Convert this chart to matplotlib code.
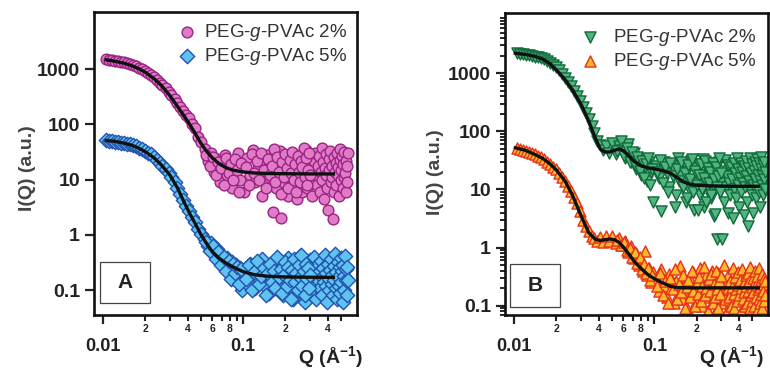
import matplotlib
matplotlib.use("Agg")
import matplotlib.pyplot as plt
from matplotlib.ticker import FixedLocator, FixedFormatter, NullLocator, LogLocator, NullFormatter
from matplotlib.patches import Rectangle

plt.rcParams["font.family"] = ["Liberation Sans", "DejaVu Sans"]
plt.rcParams["font.weight"] = "bold"
plt.rcParams["mathtext.fontset"] = "custom"
plt.rcParams["mathtext.rm"] = "Liberation Sans:weight=normal"
plt.rcParams["mathtext.it"] = "Liberation Sans:style=italic:weight=normal"
plt.rcParams["mathtext.bf"] = "Liberation Sans:weight=bold"

# scattering vector Q (1/A), common grid for all four curves
q = [0.0105, 0.0110, 0.0116, 0.0122, 0.0128, 0.0134, 0.0141, 0.0148, 0.0155, 0.0163,
     0.0171, 0.0180, 0.0189, 0.0198, 0.0208, 0.0218, 0.0229, 0.0241, 0.0253, 0.0265,
     0.0279, 0.0293, 0.0307, 0.0323, 0.0339, 0.0356, 0.0373, 0.0392, 0.0412, 0.0432,
     0.0454, 0.0477,
     0.050, 0.053, 0.056, 0.059, 0.062, 0.065, 0.068, 0.071, 0.074, 0.077,
     0.080, 0.083, 0.086, 0.089, 0.092, 0.095, 0.098,
     0.102, 0.107, 0.112, 0.117, 0.122, 0.127, 0.132, 0.137, 0.142, 0.147,
     0.152, 0.157, 0.162, 0.167, 0.172, 0.177, 0.182, 0.187, 0.192, 0.197,
     0.202, 0.207, 0.212, 0.217, 0.222, 0.227, 0.232, 0.237, 0.242, 0.247,
     0.252, 0.257, 0.262, 0.267, 0.272, 0.277, 0.282, 0.287, 0.292, 0.297,
     0.302, 0.307, 0.312, 0.317, 0.322, 0.327, 0.332, 0.337, 0.342, 0.347,
     0.352, 0.357, 0.362, 0.367, 0.372, 0.377, 0.382, 0.387, 0.392, 0.397,
     0.402, 0.407, 0.412, 0.417, 0.422, 0.427, 0.432, 0.437, 0.442, 0.447,
     0.452, 0.457, 0.462, 0.467, 0.472, 0.477, 0.482, 0.487, 0.492, 0.497,
     0.502, 0.507, 0.512, 0.517, 0.522, 0.527, 0.532, 0.537, 0.542, 0.547,
     0.552, 0.557, 0.562, 0.567, 0.572, 0.577, 0.582, 0.587, 0.592, 0.597,
     0.602, 0.607, 0.612, 0.617]

# in-between Q points in the flat part, where the data get noisy
q_fill = [0.0545, 0.0575, 0.0605, 0.0635, 0.0665, 0.0695, 0.0725, 0.0755, 0.0785, 0.0815,
          0.0845, 0.0875, 0.0905, 0.0935, 0.0965,
          0.1045, 0.1095, 0.1145, 0.1195, 0.1245, 0.1295, 0.1345, 0.1395, 0.1445, 0.1495,
          0.1545, 0.1595, 0.1645, 0.1695, 0.1745, 0.1795, 0.1845, 0.1895, 0.1945, 0.1995,
          0.2045, 0.2095, 0.2145, 0.2195, 0.2245, 0.2295, 0.2345, 0.2395, 0.2445, 0.2495,
          0.2545, 0.2595, 0.2645, 0.2695, 0.2745, 0.2795, 0.2845, 0.2895, 0.2945, 0.2995]

# --- panel A: measured intensities ---
i_a2 = [1500, 1470, 1450, 1420, 1400, 1370, 1340, 1300, 1250, 1190,
        1130, 1060, 990, 930, 860, 790, 720, 640, 570, 510,
        450, 390, 335, 290, 245, 205, 175, 150, 130, 100,
        85, 60,
        48, 36, 22, 30, 14, 24, 9, 20, 28, 12,
        17, 7, 22, 14, 30, 10, 18,
        6, 25, 12, 35, 9, 16, 22, 5, 14, 28,
        11, 19, 2.6, 27, 7, 15, 33, 2.0, 9, 21,
        13, 5, 26, 17, 8, 30, 12, 20, 4.5, 15,
        24, 10, 6, 28, 16, 11, 35, 7, 19, 13,
        25, 5, 16, 9, 22, 31, 12, 8, 18, 27,
        6, 14, 38, 10, 21, 4.5, 16, 29, 12, 7,
        2.8, 24, 15, 33, 9, 18, 11, 1.9, 26, 6,
        14, 20, 8, 30, 12, 17, 5, 23, 36, 10,
        15, 27, 7, 19, 11, 32, 13, 6, 22, 9,
        18, 30]
i_a2_fill = [28, 18, 26, 12, 21, 16, 8, 25, 13, 19, 10, 24, 15, 6, 20,
             17, 8, 29, 13, 22, 10, 31, 15, 7, 24,
             12, 18, 36, 9, 26, 14, 5.5, 21, 11, 29,
             16, 7, 23, 13, 32, 10, 19, 6, 27, 14,
             9, 22, 17, 38, 11, 25, 8, 15, 30, 12]
i_a5 = [52, 51, 50, 49, 48, 47, 46, 45, 43.5, 42,
        40, 38, 36, 33, 31, 29, 26, 23, 20, 18,
        15.5, 13, 11, 9, 7.2, 5.6, 4.3, 3.4, 2.7, 2.1,
        1.7, 1.3,
        1.05, 0.85, 0.62, 0.7, 0.45, 0.55, 0.33, 0.42, 0.3, 0.38,
        0.22, 0.32, 0.19, 0.28, 0.14, 0.25, 0.1,
        0.2, 0.13, 0.3, 0.17, 0.11, 0.24, 0.15, 0.36, 0.12, 0.19,
        0.09, 0.27, 0.16, 0.21, 0.12, 0.33, 0.14, 0.2, 0.08, 0.25,
        0.15, 0.38, 0.11, 0.18, 0.23, 0.07, 0.29, 0.13, 0.2, 0.16,
        0.42, 0.1, 0.22, 0.14, 0.31, 0.06, 0.19, 0.26, 0.12, 0.35,
        0.16, 0.09, 0.24, 0.13, 0.4, 0.18, 0.07, 0.28, 0.15, 0.21,
        0.11, 0.33, 0.17, 0.08, 0.25, 0.14, 0.44, 0.12, 0.2, 0.06,
        0.3, 0.16, 0.1, 0.23, 0.37, 0.13, 0.19, 0.08, 0.27, 0.15,
        0.45, 0.11, 0.21, 0.07, 0.32, 0.17, 0.12, 0.26, 0.09, 0.38,
        0.14, 0.22, 0.06, 0.29, 0.18, 0.1, 0.41, 0.15, 0.24, 0.08,
        0.26, 0.15]
i_a5_fill = [0.75, 0.5, 0.62, 0.36, 0.48, 0.28, 0.4, 0.22, 0.34, 0.16, 0.3, 0.2, 0.26, 0.13, 0.24,
             0.16, 0.28, 0.1, 0.21, 0.34, 0.13, 0.18, 0.25, 0.08, 0.2,
             0.3, 0.14, 0.22, 0.11, 0.4, 0.17, 0.24, 0.09, 0.19, 0.32,
             0.12, 0.26, 0.15, 0.07, 0.23, 0.36, 0.14, 0.2, 0.1, 0.28,
             0.17, 0.43, 0.12, 0.22, 0.08, 0.3, 0.16, 0.25, 0.11, 0.19]

# model fits, panel A
q_fit_a = [0.0105, 0.012, 0.014, 0.016, 0.018, 0.020, 0.023, 0.026, 0.030, 0.034,
           0.038, 0.042, 0.046, 0.050, 0.055, 0.060, 0.067, 0.075, 0.085, 0.10,
           0.12, 0.15, 0.20, 0.30, 0.44]
fit_a2 = [1480, 1400, 1290, 1160, 1020, 880, 680, 510, 330, 210,
          140, 95, 65, 45, 32, 25, 19.5, 16.5, 14.8, 13.8,
          13.2, 12.9, 12.8, 12.7, 12.7]
fit_a5 = [51, 49.5, 46, 42, 37, 32, 25, 18.5, 12, 7,
          3.8, 2.3, 1.5, 1.0, 0.68, 0.5, 0.38, 0.31, 0.26, 0.215,
          0.19, 0.178, 0.173, 0.171, 0.170]

# --- panel B: measured intensities ---
i_b2 = [2250, 2150, 2120, 2080, 2020, 1980, 1930, 1870, 1800, 1720,
        1640, 1520, 1400, 1270, 1120, 960, 810, 690, 590, 490,
        400, 330, 260, 205, 160, 125, 95, 68, 58, 48,
        55, 42,
        62, 40, 55, 48, 35, 60, 30, 42, 22, 33,
        18, 28, 24, 14, 30, 20, 6,
        25, 16, 4.2, 30, 19, 11, 26, 22, 8, 34,
        17, 12, 28, 6, 20, 10, 31, 14, 4.5, 23,
        13, 27, 8, 18, 33, 5, 15, 22, 11, 29,
        7, 19, 12, 3.5, 25, 1.4, 16, 30, 9, 14,
        1.4, 21, 6, 32, 11, 17, 4, 26, 13, 8,
        24, 15, 3.2, 28, 10, 19, 7, 34, 12, 22,
        5, 16, 29, 9, 20, 13, 3.6, 25, 11, 31,
        17, 6, 23, 2.3, 14, 35, 10, 19, 8, 27,
        12, 4, 21, 30, 15, 7, 25, 11, 33, 18,
        9, 28, 14, 5, 22, 36, 12, 17, 8, 26,
        15, 30, 10, 20]
i_b2_fill = [45, 68, 38, 52, 30, 44, 26, 36, 21, 31, 16, 27, 35, 12, 22,
             20, 32, 13, 24, 9, 28, 17, 5, 22, 14,
             30, 11, 19, 7, 26, 15, 33, 9, 21, 12,
             4.5, 18, 27, 10, 16, 31, 6, 23, 13, 20,
             8, 29, 15, 3.8, 24, 11, 17, 34, 9, 19]
i_b5 = [52, 50, 48, 46, 44, 42, 40, 38, 35.5, 33,
        30, 27, 24.5, 22, 19, 16.5, 14, 11.5, 9.5, 7.5,
        5.8, 4.2, 3.0, 2.3, 1.9, 1.6, 1.45, 1.3, 1.5, 1.25,
        1.55, 1.3,
        1.6, 1.2, 1.45, 1.1, 1.3, 0.85, 1.05, 0.65, 0.8, 0.5,
        0.62, 0.4, 0.87, 0.33, 0.45, 0.26, 0.38,
        0.3, 0.18, 0.42, 0.22, 0.14, 0.35, 0.2, 0.11, 0.27, 0.16,
        0.48, 0.13, 0.24, 0.19, 0.09, 0.31, 0.15, 0.38, 0.21, 0.12,
        0.26, 0.17, 0.44, 0.1, 0.23, 0.14, 0.33, 0.19, 0.08, 0.29,
        0.16, 0.4, 0.12, 0.25, 0.2, 0.09, 0.36, 0.15, 0.22, 0.11,
        0.3, 0.18, 0.5, 0.13, 0.24, 0.08, 0.2, 0.34, 0.14, 0.27,
        0.1, 0.21, 0.45, 0.16, 0.09, 0.31, 0.19, 0.12, 0.38, 0.23,
        0.15, 0.28, 0.08, 0.2, 0.42, 0.13, 0.25, 0.17, 0.1, 0.33,
        0.22, 0.11, 0.36, 0.18, 0.27, 0.09, 0.47, 0.15, 0.21, 0.12,
        0.3, 0.17, 0.1, 0.26, 0.4, 0.14, 0.23, 0.08, 0.32, 0.19,
        0.13, 0.44, 0.21, 0.11, 0.28, 0.16, 0.35, 0.09, 0.24, 0.18,
        0.3, 0.12, 0.27, 0.15]
i_b5_fill = [1.35, 1.1, 1.25, 0.9, 1.0, 0.7, 0.85, 0.55, 0.68, 0.42, 0.52, 0.36, 0.44, 0.28, 0.34,
             0.22, 0.36, 0.15, 0.27, 0.11, 0.3, 0.19, 0.42, 0.13, 0.24,
             0.17, 0.33, 0.09, 0.21, 0.28, 0.14, 0.39, 0.18, 0.1, 0.25,
             0.16, 0.31, 0.12, 0.22, 0.46, 0.15, 0.2, 0.08, 0.29, 0.18,
             0.35, 0.11, 0.24, 0.14, 0.4, 0.19, 0.09, 0.27, 0.16, 0.32]

# model fits, panel B
q_fit_b = [0.0102, 0.012, 0.014, 0.016, 0.018, 0.020, 0.023, 0.026, 0.030, 0.034,
           0.038, 0.041, 0.044, 0.048, 0.052, 0.056, 0.060, 0.066, 0.072, 0.080,
           0.090, 0.10, 0.115, 0.13, 0.145, 0.16, 0.18, 0.20, 0.25, 0.35,
           0.45, 0.55]
fit_b2 = [2200, 2100, 1950, 1740, 1450, 1130, 780, 520, 290, 150,
          75, 50, 44, 44, 47, 50, 46, 37, 30, 25.5,
          23.5, 22.5, 21, 19, 16, 13.5, 12.2, 11.8, 11.5, 11.3,
          11.3, 11.3]
fit_b5 = [52, 47, 40, 34, 27.5, 21.5, 14, 8.0, 3.5, 1.8,
          1.38, 1.32, 1.36, 1.4, 1.36, 1.22, 1.02, 0.76, 0.57, 0.44,
          0.34, 0.29, 0.245, 0.215, 0.205, 0.203, 0.202, 0.202, 0.202, 0.202,
          0.202, 0.202]

labels = ["PEG-$\\mathit{g}$-PVAc 2%", "PEG-$\\mathit{g}$-PVAc 5%"]

x_minor = [0.02, 0.03, 0.04, 0.05, 0.06, 0.07, 0.08, 0.09, 0.2, 0.3, 0.4, 0.5]
x_minor_labels = ["2", "", "4", "", "6", "", "8", "", "2", "", "4", ""]
y_major = [0.1, 1, 10, 100, 1000]
y_major_labels = ["0.1", "1", "10", "100", "1000"]

W, H = 770, 372
fig = plt.figure(figsize=(W / 100, H / 100), dpi=100)
axA = fig.add_axes([94 / W, (H - 315) / H, 262.7 / W, 303.3 / H])
axB = fig.add_axes([505 / W, (H - 315) / H, 263 / W, 301.7 / H])


def style_axes(ax, ylim, y_minor):
    ax.set_xscale("log")
    ax.set_yscale("log")
    ax.set_xlim(0.0086, 0.645)
    ax.set_ylim(*ylim)
    ax.xaxis.set_major_locator(FixedLocator([0.01, 0.1]))
    ax.xaxis.set_major_formatter(FixedFormatter(["0.01", "0.1"]))
    ax.xaxis.set_minor_locator(FixedLocator(x_minor))
    ax.xaxis.set_minor_formatter(FixedFormatter(x_minor_labels))
    ax.yaxis.set_major_locator(FixedLocator(y_major))
    ax.yaxis.set_major_formatter(FixedFormatter(y_major_labels))
    if y_minor:
        ax.yaxis.set_minor_locator(LogLocator(base=10, subs=range(2, 10)))
    else:
        ax.yaxis.set_minor_locator(NullLocator())
    ax.yaxis.set_minor_formatter(NullFormatter())
    ax.tick_params(axis="x", which="major", direction="out", length=6.5, width=1.6,
                   pad=10, labelsize=13, colors="#222222")
    ax.tick_params(axis="x", which="minor", direction="out", length=4.3, width=1.5,
                   pad=2.5, labelsize=7.5, colors="#222222")
    ax.tick_params(axis="y", which="major", direction="out", length=6.5, width=1.6,
                   pad=3.5, labelsize=14, colors="#222222")
    ax.tick_params(axis="y", which="minor", direction="out", length=3.5, width=1.2)
    for s in ax.spines.values():
        s.set_linewidth(1.9)
        s.set_color("#111111")


# panel A
sa2 = axA.scatter(q[:len(i_a2)] + q_fill, i_a2 + i_a2_fill, s=60, marker="o",
                  facecolor="#e07cc5", edgecolor="#9c2386", linewidth=1.0, zorder=2)
sa5 = axA.scatter(q[:len(i_a5)] + q_fill, i_a5 + i_a5_fill, s=54, marker="D",
                  facecolor="#5ec3ee", edgecolor="#2352b0", linewidth=1.0, zorder=2)
axA.plot(q_fit_a, fit_a2, color="#111111", lw=2.4, zorder=3)
axA.plot(q_fit_a, fit_a5, color="#111111", lw=2.4, zorder=3)
style_axes(axA, (0.0354, 11000), False)
axA.legend([sa2, sa5], labels, loc="upper left", bbox_to_anchor=(0.318, 0.966),
           frameon=False, borderpad=0, borderaxespad=0, handlelength=1.0,
           handletextpad=0.4, labelspacing=0.15, scatterpoints=1,
           prop={"size": 13.5, "weight": "normal"}, labelcolor="#333333")
axA.add_patch(Rectangle((0.0228, 0.0396), 0.19, 0.135, transform=axA.transAxes,
                        fill=False, edgecolor="#444444", lw=0.9, zorder=4))
axA.text(0.118, 0.107, "A", transform=axA.transAxes, ha="center", va="center",
         fontsize=15, fontweight="bold", color="#222222", zorder=5)
axA.text(1.024, -0.138, "Q (Å$^{\\mathbf{-1}}$)", transform=axA.transAxes,
         ha="right", va="center", fontsize=14, fontweight="bold", color="#222222")

# panel B
sb2 = axB.scatter(q[:len(i_b2)] + q_fill, i_b2 + i_b2_fill, s=64, marker="v",
                  facecolor="#50b580", edgecolor="#116a3a", linewidth=1.0, zorder=2)
sb5 = axB.scatter(q[:len(i_b5)] + q_fill, i_b5 + i_b5_fill, s=64, marker="^",
                  facecolor="#fbb82b", edgecolor="#e6301a", linewidth=1.0, zorder=2)
axB.plot(q_fit_b, fit_b2, color="#111111", lw=2.4, zorder=3)
axB.plot(q_fit_b, fit_b5, color="#111111", lw=2.4, zorder=3)
style_axes(axB, (0.069, 10700), True)
axB.legend([sb2, sb5], labels, loc="upper left", bbox_to_anchor=(0.2875, 0.955),
           frameon=False, borderpad=0, borderaxespad=0, handlelength=1.0,
           handletextpad=0.73, labelspacing=0.15, scatterpoints=1,
           prop={"size": 13.5, "weight": "normal"}, labelcolor="#333333")
axB.add_patch(Rectangle((0.019, 0.0265), 0.19, 0.1425, transform=axB.transAxes,
                        fill=False, edgecolor="#444444", lw=0.9, zorder=4))
axB.text(0.114, 0.098, "B", transform=axB.transAxes, ha="center", va="center",
         fontsize=15, fontweight="bold", color="#222222", zorder=5)
axB.text(0.985, -0.14, "Q (Å$^{\\mathbf{-1}}$)", transform=axB.transAxes,
         ha="right", va="center", fontsize=14, fontweight="bold", color="#222222")

fig.text(28 / W, 1 - 168 / H, "I(Q) (a.u.)", rotation=90, ha="center", va="center",
         fontsize=14, fontweight="bold", color="#444444")
fig.text(435 / W, 1 - 172 / H, "I(Q) (a.u.)", rotation=90, ha="center", va="center",
         fontsize=14, fontweight="bold", color="#444444")

fig.savefig("out.png", dpi=100)
